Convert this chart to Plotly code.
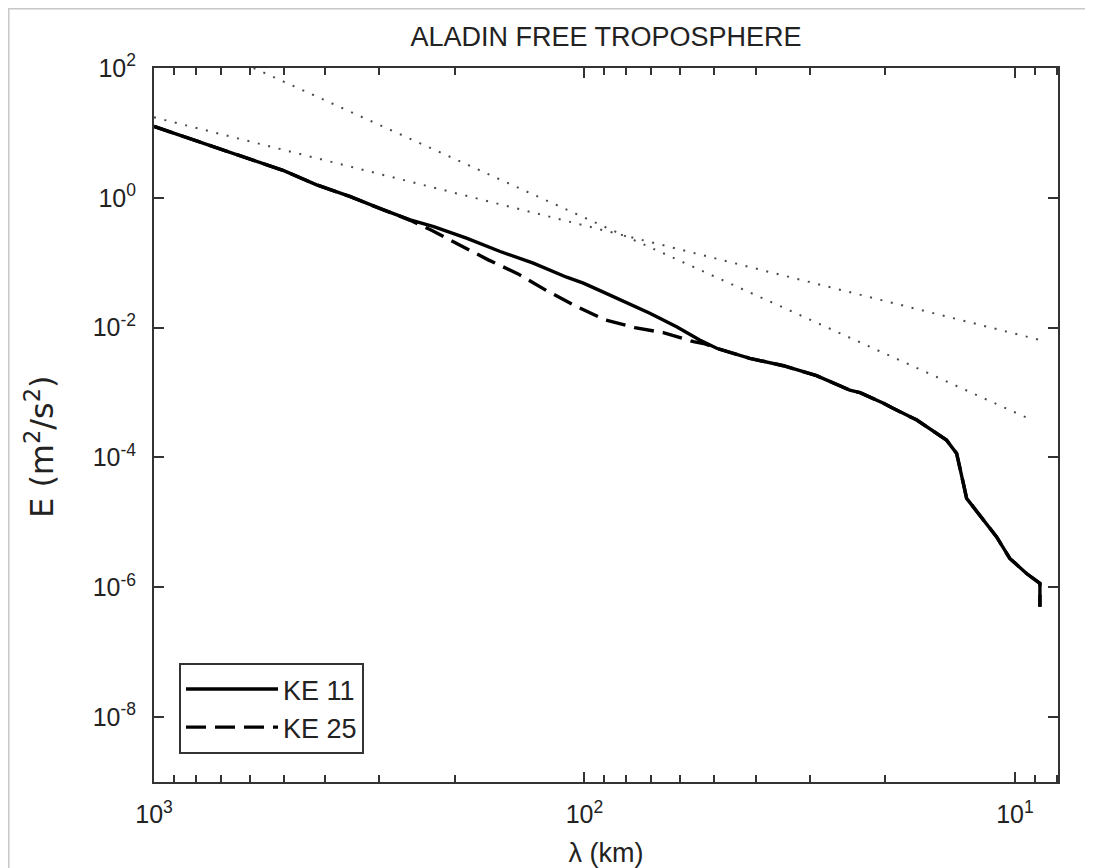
import plotly.graph_objects as go

# ---------------- data ----------------
lam_ke11 = [1000, 855, 715, 598, 501, 419, 351, 293, 254, 224, 188, 157, 131.5,
            110, 100.6, 92, 84.2, 70.5, 61.1, 54,
            49.3, 41.3, 34.5, 28.9, 24.2, 22.9, 20.2, 19.2, 16.9, 16.0, 14.42, 13.66,
            13.42, 13.18, 12.95, 11.85, 11.03, 10.28, 9.40, 8.75, 8.75]
e_ke11 = [12.6, 8.81, 5.84, 3.85, 2.64, 1.585, 1.05, 0.653, 0.458, 0.361, 0.239, 0.149, 0.0984,
          0.0598, 0.0484, 0.0372, 0.0284, 0.0167, 0.01035, 0.00646,
          0.00481, 0.00337, 0.00259, 0.00182, 0.00109, 0.000995, 0.000683, 0.000571, 0.000377,
          0.000297, 0.000185, 1.156e-4,
          7.19e-5, 3.99e-5, 2.34e-5, 1.08e-5, 5.98e-6, 2.78e-6, 1.63e-6, 1.15e-6, 5.0e-7]

lam_ke25 = [1000, 855, 715, 598, 501, 419, 351, 293, 254, 226, 194.5, 167.3, 142.6,
            122.5, 104.2, 89.6, 76.4, 65.6, 55.8, 52.5,
            49.3, 41.3, 34.5, 28.9, 24.2, 22.9, 20.2, 19.2, 16.9, 16.0, 14.42, 13.66,
            13.42, 13.18, 12.95, 11.85, 11.03, 10.28, 9.40, 8.75, 8.75]
e_ke25 = [12.6, 8.81, 5.84, 3.85, 2.64, 1.585, 1.05, 0.653, 0.450, 0.313, 0.184, 0.1107, 0.0673,
          0.0372, 0.0211, 0.01315, 0.0100, 0.00838, 0.00608, 0.00561,
          0.00481, 0.00337, 0.00259, 0.00182, 0.00109, 0.000995, 0.000683, 0.000571, 0.000377,
          0.000297, 0.000185, 1.156e-4,
          7.19e-5, 3.99e-5, 2.34e-5, 1.08e-5, 5.98e-6, 2.78e-6, 1.63e-6, 1.15e-6, 5.0e-7]

# reference slopes (dotted), end points
lam_ref53 = [1000, 8.75]
e_ref53 = [17.4, 0.00646]
lam_ref3 = [587, 9.14]
e_ref3 = [100, 3.78e-4]

x_major = [1000, 100, 10]
x_major_text = ["10<sup>3</sup>", "10<sup>2</sup>", "10<sup>1</sup>"]
x_minor = [900, 800, 700, 600, 500, 400, 300, 200,
           90, 80, 70, 60, 50, 40, 30, 20, 9, 8]
y_major = [1e2, 1e0, 1e-2, 1e-4, 1e-6, 1e-8]
y_major_text = ["10<sup>2</sup>", "10<sup>0</sup>", "10<sup>-2</sup>",
                "10<sup>-4</sup>", "10<sup>-6</sup>", "10<sup>-8</sup>"]

title_text = "ALADIN FREE TROPOSPHERE"
x_title = "λ (km)"
y_title = "E (m<sup>2</sup>/s<sup>2</sup>)"

# ---------------- figure ----------------
FONT = "Liberation Sans, Arial, Helvetica, sans-serif"
YT_FONT = "DejaVu Sans, Liberation Sans, sans-serif"
TXT = "#222222"
AX = "#333333"

# the page body adds an 8 px offset; the figure is sized so that the plot area
# lands at x 154-1058, y 68-782 of the 1093x868 window
W, H = 1077, 860
L, T, R, B = 146, 60, 27, 86
PW, PH = W - L - R, H - T - B

fig = go.Figure()
fig.add_trace(go.Scatter(x=lam_ref53, y=e_ref53, mode="lines", showlegend=False,
                         line=dict(color="#4a4a4a", width=2, dash="2px,8.7px")))
fig.add_trace(go.Scatter(x=lam_ref3, y=e_ref3, mode="lines", showlegend=False,
                         line=dict(color="#4a4a4a", width=2, dash="2px,8.7px")))
fig.add_trace(go.Scatter(x=lam_ke11, y=e_ke11, mode="lines", name="KE 11",
                         line=dict(color="black", width=3.4)))
fig.add_trace(go.Scatter(x=lam_ke25, y=e_ke25, mode="lines", name="KE 25",
                         line=dict(color="black", width=3.4, dash="20px,9px")))

axis_common = dict(
    showline=True, linewidth=2, linecolor=AX, mirror="ticks",
    ticks="inside", ticklen=10, tickwidth=1.5, tickcolor=AX,
    showgrid=False, zeroline=False, tickmode="array",
    tickfont=dict(family=FONT, size=25, color=TXT),
)

fig.update_layout(
    width=W, height=H,
    margin=dict(l=L, r=R, t=T, b=B, autoexpand=False),
    paper_bgcolor="white", plot_bgcolor="white",
    font=dict(family=FONT, size=25, color=TXT),
    title=dict(text=title_text, x=0.5, xref="paper", xanchor="center",
               y=1 - 29 / H, yref="container", yanchor="middle",
               font=dict(family=FONT, size=27, color=TXT)),
    xaxis=dict(type="log", range=[3, 0.9], tickvals=x_major, ticktext=x_major_text,
               minor=dict(tickvals=x_minor, ticks="inside", ticklen=7, tickwidth=1.5,
                          tickcolor=AX, showgrid=False),
               ticklabelstandoff=9,
               title=dict(text=x_title, font=dict(family=FONT, size=27, color=TXT), standoff=19),
               **axis_common),
    yaxis=dict(type="log", range=[-9, 2], tickvals=y_major, ticktext=y_major_text,
               ticklabelstandoff=11,
               **axis_common),
    annotations=[
        dict(text=y_title, textangle=-90, showarrow=False,
             xref="paper", yref="paper", x=(40 - 154) / PW, y=1 - (447 - 68) / PH,
             xanchor="center", yanchor="middle",
             font=dict(family=YT_FONT, size=32, color=TXT)),
    ],
    legend=dict(x=(179 - 154) / PW, y=1 - (663.3 - 68.3) / PH,
                xanchor="left", yanchor="top",
                bgcolor="white", bordercolor=AX, borderwidth=2,
                font=dict(family=FONT, size=27, color=TXT),
                itemwidth=92, tracegroupgap=0),
    shapes=[
        dict(type="line", xref="paper", yref="paper", x0=-L / PW, x1=(W - L) / PW,
             y0=1 + (T - 0.8) / PH, y1=1 + (T - 0.8) / PH,
             line=dict(color="#c8c8c8", width=1.5)),
        dict(type="line", xref="paper", yref="paper", x0=-(L - 0.8) / PW, x1=-(L - 0.8) / PW,
             y0=1 + T / PH, y1=-B / PH,
             line=dict(color="#c8c8c8", width=1.5)),
    ],
)

fig.write_html("out.html")
